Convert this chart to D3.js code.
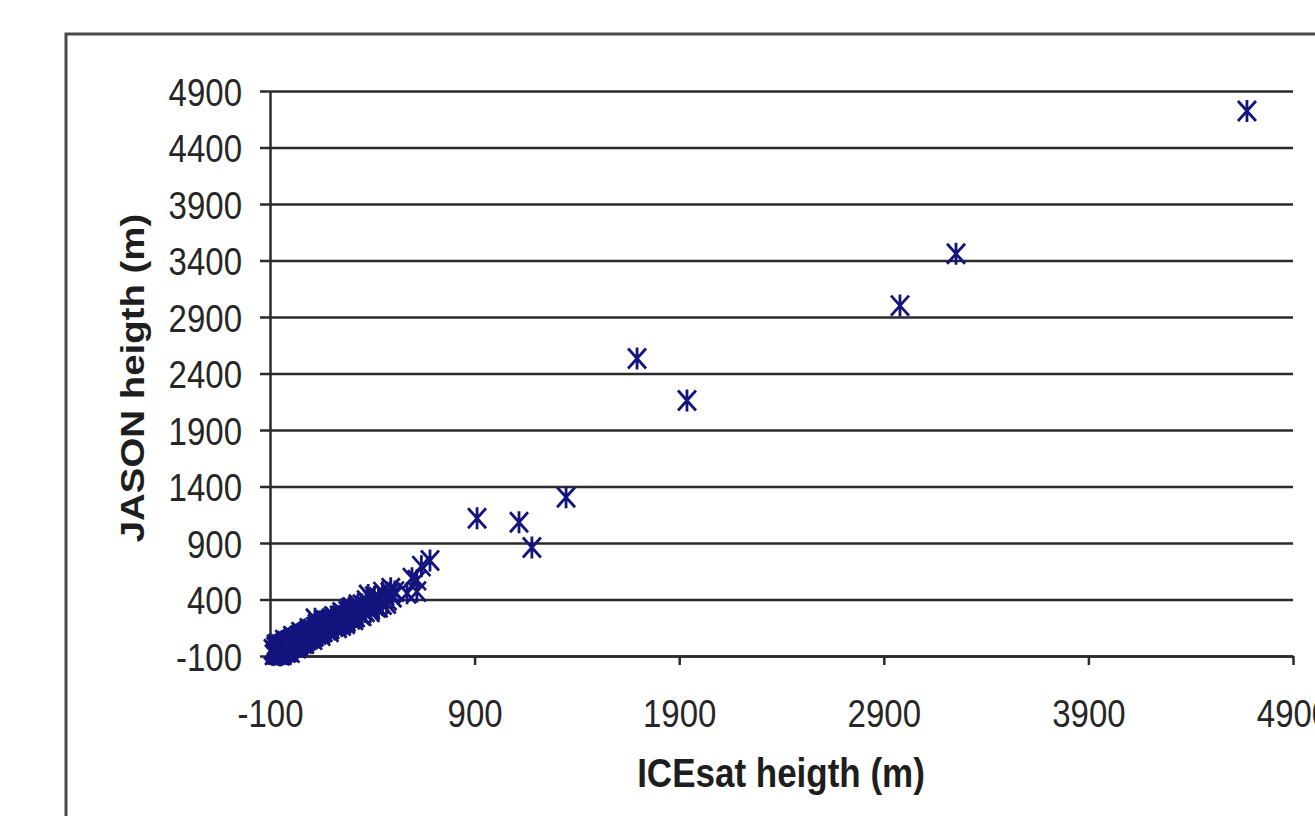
<!DOCTYPE html>
<html><head><meta charset="utf-8">
<script src="https://cdn.jsdelivr.net/npm/d3@7"></script>
<style>body{margin:0;background:#fff}</style>
</head><body>
<svg id="c" width="1315" height="816"></svg>
<script>
const xTicks = [-100, 900, 1900, 2900, 3900, 4900];
const yTicks = [-100, 400, 900, 1400, 1900, 2400, 2900, 3400, 3900, 4400, 4900];
const xTitle = "ICEsat heigth (m)";
const yTitle = "JASON heigth (m)";

// ICEsat height (x) and JASON height (y)
const icesatHeight = [
  -85,-80,-78,-75,-72,-70,-68,-65,-62,-60,-58,-55,-52,-50,-48,-45,-42,-40,-38,-35,
  -32,-30,-28,-25,-22,-20,-18,-15,-12,-10,-8,-5,-2,0,3,5,8,10,12,15,
  18,20,24,27,30,33,36,40,43,46,50,54,57,60,64,68,72,75,79,83,
  87,90,95,99,103,108,112,117,121,126,130,135,140,145,150,155,160,165,170,176,
  182,188,194,200,206,212,218,225,232,238,245,252,259,266,273,280,288,295,303,310,
  318,326,334,342,350,358,366,375,383,392,400,410,420,430,440,450,462,474,486,498,510,
  120,250,-60,380,300,-20,60,160,420,
  -70,-50,-30,-10,10,30,50,70,90,110,130,150,170,190,210,230,250,270,290,310,
  330,350,370,390,410,430,450,470,490,-60,-40,-20,0,20,40,
  594,618,618,570,640,682,912,1117,1180,1347,1694,1938,2979,3253,4675
];
const jasonHeight = [
  -40,-90,-55,-80,-20,-70,-85,-35,-50,-88,-15,-60,-20,-70,0,-40,-55,-10,-70,5,
  -30,-60,10,-25,-50,25,-20,-45,20,-15,-40,35,0,-25,40,-15,30,-20,50,5,
  -15,55,10,-10,60,20,0,75,30,10,85,40,20,95,50,30,100,60,40,115,
  70,50,130,80,60,140,95,75,155,110,90,165,125,100,180,140,115,195,150,130,
  210,165,140,225,180,160,240,195,175,255,210,190,275,230,205,295,245,225,315,265,
  245,335,285,265,355,305,290,375,325,310,395,345,330,415,370,355,435,395,460,420,470,
  230,170,10,440,330,-70,10,200,350,
  0,-95,40,-60,75,-30,110,10,145,45,180,80,215,115,250,150,285,185,320,220,
  355,255,390,290,425,330,465,365,500,-30,-90,30,-70,60,-5,
  589,571,470,455,695,745,1119,1084,860,1305,2533,2161,3001,3460,4723
];

const svg = d3.select("#c");
const x = d3.scaleLinear().domain([-100, 4900]).range([270, 1293]);
const y = d3.scaleLinear().domain([-100, 4900]).range([656, 91]);
const ink = "#2b2b2b";
const font = "'Liberation Sans', Arial, sans-serif";
const fmt = d => String(d);

// outer chart border (extends beyond the window at right and bottom)
svg.append("rect").attr("x", 66).attr("y", 34).attr("width", 1400).attr("height", 1000)
  .attr("fill", "none").attr("stroke", "#4a4a4a").attr("stroke-width", 3);

// Y axis with gridlines
const gy = svg.append("g").attr("transform", `translate(${x(-100)},0)`)
  .call(d3.axisLeft(y).tickValues(yTicks).tickFormat(fmt).tickSizeOuter(0).tickSizeInner(10).tickPadding(18));
gy.select(".domain").attr("stroke", ink).attr("stroke-width", 2.5);
gy.selectAll(".tick line").attr("x1", -10).attr("x2", x(4900) - x(-100))
  .attr("stroke", ink).attr("stroke-width", 2.5);
gy.selectAll(".tick text").attr("font-family", font).attr("font-size", 33).attr("fill", "#262626")
  .attr("dy", "0.36em").attr("transform", "scale(1,1.2)");

// X axis
const gx = svg.append("g").attr("transform", `translate(0,${y(-100)})`)
  .call(d3.axisBottom(x).tickValues(xTicks).tickFormat(fmt).tickSizeOuter(0).tickSizeInner(9));
gx.select(".domain").attr("stroke", ink).attr("stroke-width", 2.5);
gx.selectAll(".tick line").attr("stroke", ink).attr("stroke-width", 2.5);
gx.selectAll(".tick text").attr("font-family", font).attr("font-size", 33).attr("fill", "#262626")
  .attr("y", 0).attr("dy", 0).attr("transform", "translate(0,71) scale(1,1.2)");

// markers (asterisk / star)
const star = "M-9,-10L9,10M-9,10L9,-10M0,-11V11";
svg.append("g").selectAll("path").data(icesatHeight.map((v, i) => [v, jasonHeight[i]]))
  .join("path")
  .attr("d", star)
  .attr("transform", d => `translate(${x(d[0])},${y(d[1])})`)
  .attr("fill", "none").attr("stroke", "#14147e").attr("stroke-width", 2.8);

// axis titles
svg.append("text").text(xTitle)
  .attr("transform", `translate(781,787) scale(1,1.15)`)
  .attr("text-anchor", "middle").attr("font-family", font).attr("font-weight", "bold")
  .attr("font-size", 35).attr("fill", "#1e1e1e");
svg.append("text").text(yTitle)
  .attr("transform", `translate(144,378) scale(1,1.13) rotate(-90)`)
  .attr("text-anchor", "middle").attr("font-family", font).attr("font-weight", "bold")
  .attr("font-size", 34).attr("fill", "#1e1e1e");
</script>
</body></html>
